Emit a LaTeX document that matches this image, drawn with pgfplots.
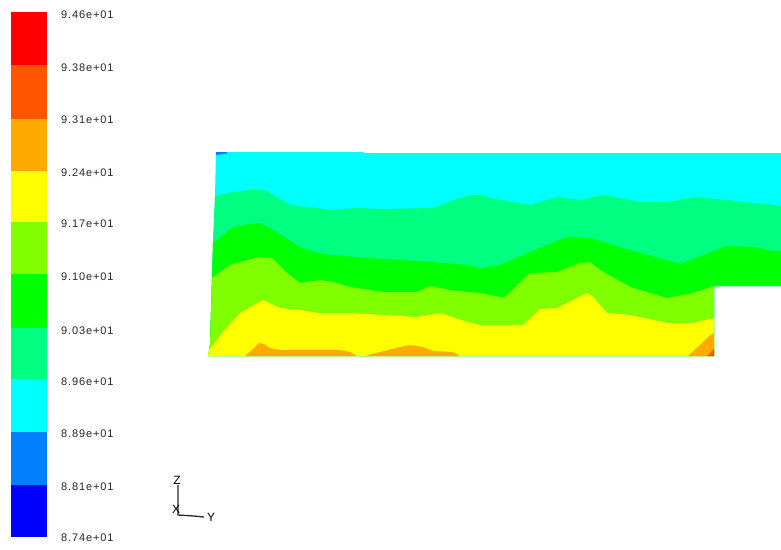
\documentclass[border=0pt]{standalone}
\usepackage{pgfplots}
\pgfplotsset{compat=1.18}
\usepackage{fontspec}
\setmainfont{Liberation Sans}
\newfontfamily\lblfont[LetterSpace=8]{Liberation Sans}
\definecolor{cRed}{RGB}{255,0,0}
\definecolor{cOR}{RGB}{255,85,0}
\definecolor{cOrange}{RGB}{255,170,0}
\definecolor{cYellow}{RGB}{255,255,0}
\definecolor{cYG}{RGB}{128,255,0}
\definecolor{cGreen}{RGB}{0,255,0}
\definecolor{cSG}{RGB}{0,255,128}
\definecolor{cCyan}{RGB}{0,255,255}
\definecolor{cAzure}{RGB}{0,128,255}
\definecolor{cBlue}{RGB}{0,0,255}
\tikzset{lbl/.style={anchor=west, inner sep=0pt, text=black!85, font=\lblfont\fontsize{11}{13}\selectfont}}
\begin{document}
\begin{tikzpicture}
\begin{axis}[
  scale only axis, width=781pt, height=549pt,
  xmin=0, xmax=781, ymin=0, ymax=549, y dir=reverse,
  hide axis, clip=false,
]
\addplot[draw=none, forget plot] coordinates {(0,0) (781,549)};
% colour bar
\addplot[fill=cRed, draw=none] coordinates {(11,12) (47,12) (47,65) (11,65)} -- cycle;
\addplot[fill=cOR, draw=none] coordinates {(11,65) (47,65) (47,119) (11,119)} -- cycle;
\addplot[fill=cOrange, draw=none] coordinates {(11,119) (47,119) (47,171) (11,171)} -- cycle;
\addplot[fill=cYellow, draw=none] coordinates {(11,171) (47,171) (47,222) (11,222)} -- cycle;
\addplot[fill=cYG, draw=none] coordinates {(11,222) (47,222) (47,274) (11,274)} -- cycle;
\addplot[fill=cGreen, draw=none] coordinates {(11,274) (47,274) (47,328) (11,328)} -- cycle;
\addplot[fill=cSG, draw=none] coordinates {(11,328) (47,328) (47,379) (11,379)} -- cycle;
\addplot[fill=cCyan, draw=none] coordinates {(11,379) (47,379) (47,432) (11,432)} -- cycle;
\addplot[fill=cAzure, draw=none] coordinates {(11,432) (47,432) (47,485) (11,485)} -- cycle;
\addplot[fill=cBlue, draw=none] coordinates {(11,485) (47,485) (47,537) (11,537)} -- cycle;
\node[lbl] at (axis cs:61,15) {9.46e+01};
\node[lbl] at (axis cs:61,68) {9.38e+01};
\node[lbl] at (axis cs:61,120) {9.31e+01};
\node[lbl] at (axis cs:61,173) {9.24e+01};
\node[lbl] at (axis cs:61,224) {9.17e+01};
\node[lbl] at (axis cs:61,277) {9.10e+01};
\node[lbl] at (axis cs:61,331) {9.03e+01};
\node[lbl] at (axis cs:61,382) {8.96e+01};
\node[lbl] at (axis cs:61,434) {8.89e+01};
\node[lbl] at (axis cs:61,487) {8.81e+01};
\node[lbl] at (axis cs:61,538) {8.74e+01};
% contour bands
\addplot[fill=cCyan, draw=none] coordinates {(216,152) (364,152) (364,153) (781,153) (781,286) (714,286) (714,356) (208,356) (210,345) (212,278) (213,243) (215,197)} -- cycle;
\addplot[fill=cSG, draw=none] coordinates {(215,196) (233,192) (250,190) (265,190) (290,205) (333,210) (357,208) (380,209) (433,208) (460,198) (473,195) (480,195) (490,198) (530,205) (557,197) (580,200) (603,195) (640,202) (667,202) (697,197) (727,200) (753,203) (781,206) (781,286) (714,286) (714,356) (208,356) (210,345) (212,278) (213,243)} -- cycle;
\addplot[fill=cGreen, draw=none] coordinates {(213,243) (233,227) (258,223) (270,228) (300,247) (317,253) (333,255) (367,258) (400,260) (433,262) (467,265) (480,268) (500,265) (530,252) (567,237) (590,238) (630,250) (680,264) (727,246) (753,247) (773,251) (781,251) (781,286) (714,286) (714,356) (208,356) (210,345) (212,278)} -- cycle;
\addplot[fill=cYG, draw=none] coordinates {(212,278) (230,265) (258,257) (272,258) (287,273) (300,283) (320,280) (333,282) (350,287) (383,292) (417,292) (430,286) (450,290) (467,292) (480,293) (500,297) (505,297) (530,273) (557,272) (580,263) (590,262) (600,270) (630,287) (667,298) (693,293) (714,286) (714,356) (208,356) (210,345)} -- cycle;
\addplot[fill=cYellow, draw=none] coordinates {(209,350) (223,332) (240,313) (263,300) (280,308) (300,310) (317,313) (350,313) (383,315) (417,317) (440,313) (467,322) (480,325) (523,325) (540,309) (557,308) (587,293) (593,297) (607,313) (630,315) (667,323) (693,323) (714,318) (714,356) (208,356)} -- cycle;
\addplot[fill=cOrange, draw=none] coordinates {(245,356) (252,350) (259,343) (264,344) (270,348) (280,350) (340,350) (350,352) (357,356)} -- cycle;
\addplot[fill=cOrange, draw=none] coordinates {(365,356) (380,352) (400,347) (410,345) (423,347) (433,351) (453,352) (460,356)} -- cycle;
\addplot[fill=cOrange, draw=none] coordinates {(688,356) (700,345) (710,335) (714,333) (714,356)} -- cycle;
\addplot[fill=cOR, draw=none] coordinates {(707,356) (714,349) (714,356)} -- cycle;
\addplot[fill=cAzure, draw=none] coordinates {(216,152) (227,152) (227,153.5) (216,155)} -- cycle;
% axis triad
\addplot[black!85, line width=1.3pt] coordinates {(178,485) (178,515) (194,516) (204,517)};
\node[anchor=center, inner sep=0pt, font=\fontsize{12}{14}\selectfont] at (axis cs:177,480) {Z};
\node[anchor=center, inner sep=0pt, font=\fontsize{12}{14}\selectfont] at (axis cs:176,509) {X};
\node[anchor=center, inner sep=0pt, font=\fontsize{12}{14}\selectfont] at (axis cs:211,517) {Y};
\end{axis}
\end{tikzpicture}
\end{document}
